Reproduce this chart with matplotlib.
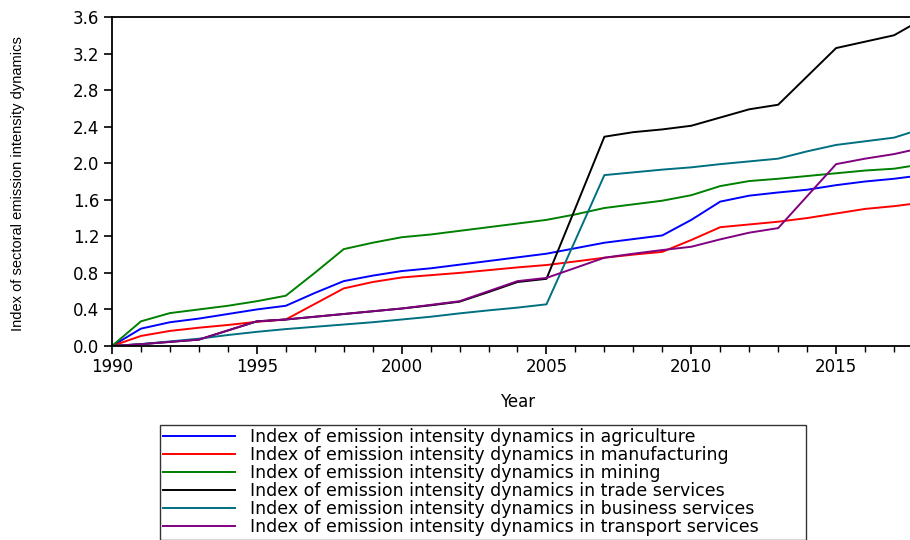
import matplotlib
matplotlib.use("Agg")
import matplotlib.pyplot as plt
from matplotlib.ticker import MultipleLocator, FormatStrFormatter

years = list(range(1990, 2019))

agriculture = [0, 0.19, 0.26, 0.30, 0.35, 0.40, 0.44, 0.58, 0.71, 0.77, 0.82, 0.85, 0.89, 0.93, 0.97,
               1.01, 1.07, 1.13, 1.17, 1.21, 1.38, 1.58, 1.645, 1.68, 1.71, 1.76, 1.80, 1.83, 1.87]
manufacturing = [0, 0.11, 0.165, 0.20, 0.23, 0.265, 0.29, 0.46, 0.63, 0.70, 0.75, 0.775, 0.80, 0.83, 0.86,
                 0.886, 0.925, 0.966, 1.00, 1.03, 1.16, 1.30, 1.33, 1.36, 1.40, 1.45, 1.50, 1.53, 1.57]
mining = [0, 0.27, 0.36, 0.40, 0.44, 0.49, 0.55, 0.80, 1.06, 1.13, 1.19, 1.22, 1.26, 1.30, 1.34,
          1.38, 1.44, 1.51, 1.55, 1.59, 1.65, 1.75, 1.805, 1.83, 1.86, 1.89, 1.92, 1.94, 1.99]
trade = [0, 0.02, 0.045, 0.07, 0.17, 0.27, 0.29, 0.32, 0.35, 0.38, 0.41, 0.445, 0.485, 0.59, 0.70,
         0.735, 1.51, 2.29, 2.34, 2.37, 2.41, 2.50, 2.59, 2.64, 2.95, 3.26, 3.33, 3.40, 3.58]
business = [0, 0.02, 0.05, 0.08, 0.12, 0.155, 0.185, 0.21, 0.235, 0.26, 0.29, 0.32, 0.357, 0.39, 0.42,
            0.456, 1.16, 1.87, 1.90, 1.93, 1.955, 1.99, 2.02, 2.05, 2.13, 2.20, 2.24, 2.28, 2.38]
transport = [0, 0.02, 0.045, 0.07, 0.17, 0.27, 0.29, 0.32, 0.35, 0.38, 0.41, 0.45, 0.49, 0.60, 0.71,
             0.745, 0.855, 0.966, 1.01, 1.05, 1.086, 1.167, 1.24, 1.29, 1.64, 1.99, 2.05, 2.10, 2.17]

labels = [
    "Index of emission intensity dynamics in agriculture",
    "Index of emission intensity dynamics in manufacturing",
    "Index of emission intensity dynamics in mining",
    "Index of emission intensity dynamics in trade services",
    "Index of emission intensity dynamics in business services",
    "Index of emission intensity dynamics in transport services",
]
series = [agriculture, manufacturing, mining, trade, business, transport]
colors = ["#0000ff", "#ff0000", "#008000", "#000000", "#007080", "#800080"]

plt.rcParams['font.family'] = ['DejaVu Sans']

fig = plt.figure(figsize=(9.1, 5.4), dpi=100)
ax = fig.add_axes([112 / 910, 1 - 346 / 540, 811 / 910, 329 / 540])

handles = []
for vals, c, lab in zip(series, colors, labels):
    h, = ax.plot(years, vals, color=c, lw=1.4, label=lab)
    handles.append(h)

ax.set_xlim(1990, 2018)
ax.set_ylim(0, 3.6)
ax.yaxis.set_major_locator(MultipleLocator(0.4))
ax.xaxis.set_major_locator(MultipleLocator(5))
ax.xaxis.set_minor_locator(MultipleLocator(1))
ax.yaxis.set_major_formatter(FormatStrFormatter('%.1f'))
ax.tick_params(axis='both', which='major', direction='out', length=6, width=1.2, labelsize=12, pad=3)
ax.tick_params(axis='x', which='minor', direction='out', length=4, width=1)
for s in ax.spines.values():
    s.set_linewidth(1.3)
ax.set_xlabel("Year", fontsize=12, labelpad=12)
fig.text(18 / 910, 1 - 184 / 540, "Index of sectoral emission intensity dynamics",
         rotation=90, ha='center', va='center', fontsize=10.5,
         family=['Liberation Sans Narrow', 'Liberation Sans', 'DejaVu Sans'])

leg = fig.legend(handles=handles, loc='upper left',
                 bbox_to_anchor=(160 / 910, 1 - 425 / 540 - 0.01, 646 / 910, 0.01), mode='expand',
                 fontsize=12.5, frameon=True, fancybox=False, handlelength=4.1, handletextpad=0.86,
                 labelspacing=0.0, borderpad=0.2, borderaxespad=0)
leg.get_frame().set_edgecolor('black')
leg.get_frame().set_linewidth(1.0)

fig.savefig("out.png", dpi=100)
